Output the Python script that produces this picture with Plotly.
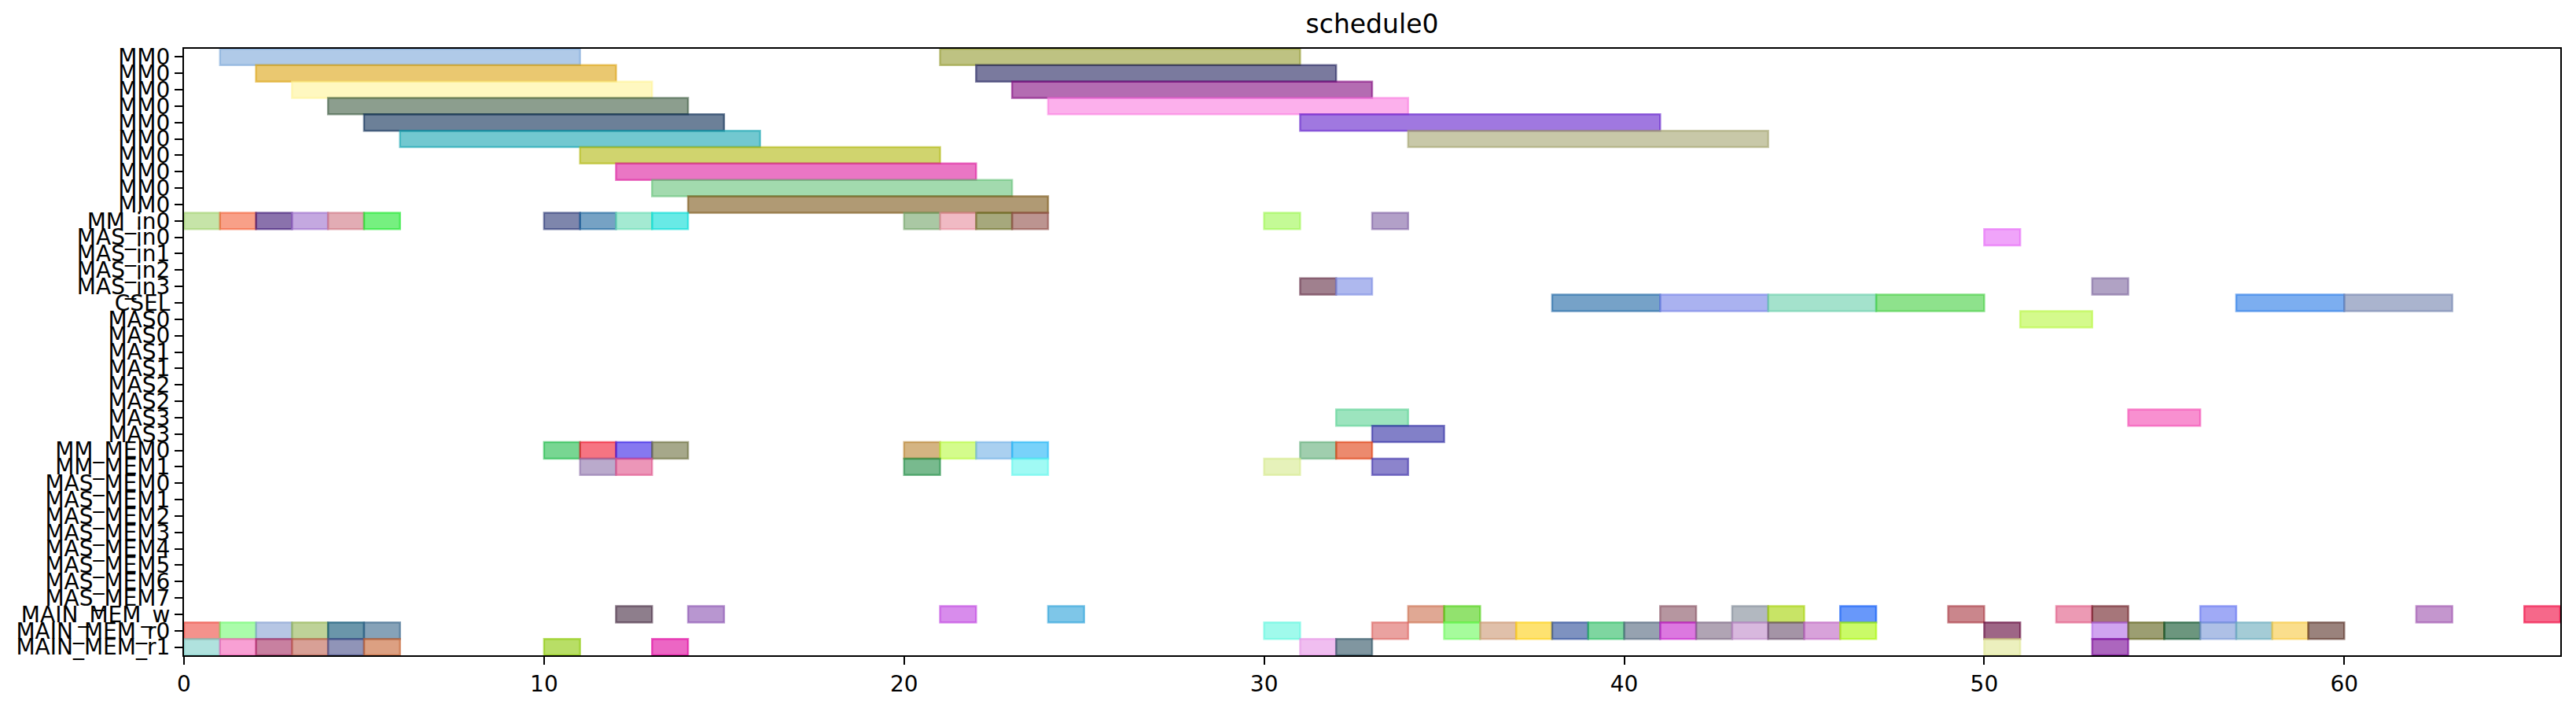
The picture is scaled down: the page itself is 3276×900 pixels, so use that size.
import plotly.graph_objects as go

# row labels, top to bottom (duplicates are real, so y is numeric)
row_labels = ["MM0"] * 10 + [
    "MM_in0", "MAS_in0", "MAS_in1", "MAS_in2", "MAS_in3", "CSEL",
    "MAS0", "MAS0", "MAS1", "MAS1", "MAS2", "MAS2", "MAS3", "MAS3",
    "MM_MEM0", "MM_MEM1",
    "MAS_MEM0", "MAS_MEM1", "MAS_MEM2", "MAS_MEM3",
    "MAS_MEM4", "MAS_MEM5", "MAS_MEM6", "MAS_MEM7",
    "MAIN_MEM_w", "MAIN_MEM_r0", "MAIN_MEM_r1",
]

# one entry per task: row index, start, end, colour
task_row = [
    0, 0, 1, 1, 2, 2, 3, 3, 4, 4, 5, 5, 6, 7, 8, 9,
    10, 10, 10, 10, 10, 10, 10, 10, 10, 10, 10, 10, 10, 10, 10, 10,
    11,
    14, 14, 14,
    15, 15, 15, 15, 15, 15,
    16,
    22, 22, 23,
    24, 24, 24, 24, 24, 24, 24, 24, 24, 24,
    25, 25, 25, 25, 25, 25,
    34, 34, 34, 34, 34, 34, 34, 34, 34, 34, 34, 34, 34, 34, 34, 34,
    35, 35, 35, 35, 35, 35, 35, 35, 35, 35, 35, 35, 35, 35, 35, 35,
    35, 35, 35, 35, 35, 35, 35, 35, 35, 35, 35, 35,
    36, 36, 36, 36, 36, 36, 36, 36, 36, 36, 36, 36,
]
task_start = [
    1, 21, 2, 22, 3, 23, 4, 24, 5, 31, 6, 34, 11, 12, 13, 14,
    0, 1, 2, 3, 4, 5, 10, 11, 12, 13, 20, 21, 22, 23, 30, 33,
    50,
    31, 32, 53,
    38, 41, 44, 47, 57, 60,
    51,
    32, 54, 33,
    10, 11, 12, 13, 20, 21, 22, 23, 31, 32,
    11, 12, 20, 23, 30, 33,
    12, 14, 21, 24, 34, 35, 41, 43, 44, 46, 49, 52, 53, 56, 62, 65,
    0, 1, 2, 3, 4, 5, 30, 33, 35, 36, 37, 38, 39, 40, 41, 42,
    43, 44, 45, 46, 50, 53, 54, 55, 56, 57, 58, 59,
    0, 1, 2, 3, 4, 5, 10, 13, 31, 32, 50, 53,
]
task_end = [
    11, 31, 12, 32, 13, 33, 14, 34, 15, 41, 16, 44, 21, 22, 23, 24,
    1, 2, 3, 4, 5, 6, 11, 12, 13, 14, 21, 22, 23, 24, 31, 34,
    51,
    32, 33, 54,
    41, 44, 47, 50, 60, 63,
    53,
    34, 56, 35,
    11, 12, 13, 14, 21, 22, 23, 24, 32, 33,
    12, 13, 21, 24, 31, 34,
    13, 15, 22, 25, 35, 36, 42, 44, 45, 47, 50, 53, 54, 57, 63, 66,
    1, 2, 3, 4, 5, 6, 31, 34, 36, 37, 38, 39, 40, 41, 42, 43,
    44, 45, 46, 47, 51, 54, 55, 56, 57, 58, 59, 60,
    1, 2, 3, 4, 5, 6, 11, 14, 32, 33, 51, 54,
]
task_color = [
    "#7ba7d9", "#93992f", "#dca311", "#21215d", "#fff396", "#820a7f",
    "#3f5d43", "#fa7bdf", "#0a2b53", "#611ecb", "#14a3b1", "#a3a36e",
    "#b1b70d", "#dc1b9d", "#64c178", "#7b5717",
    "#a0d26e", "#f36139", "#3c1475", "#9d6ecb", "#cf7582", "#1be62b",
    "#283575", "#1b649d", "#67dcb4", "#03dcd5", "#71a367", "#e68c9d",
    "#6b6e25", "#8f4d46", "#9df750", "#7f61a3",
    "#e667f7",
    "#612b43", "#7889e3", "#7b649d",
    "#1b64a3", "#717fe6", "#67cfaa", "#43cf3f", "#2578e6", "#7182ad",
    "#b7f73f",
    "#5ad293", "#f346b1", "#2f2ba3",
    "#1ebb49", "#f0172f", "#351ee6", "#6b6e3c", "#b7822f", "#b7fa3f",
    "#71b1e6", "#1eb4f7", "#61ad78", "#df3c0d",
    "#8c71aa", "#df5089", "#1e8c43", "#61f7ed", "#d5e98c", "#3f32aa",
    "#43283f", "#8950b1", "#be3fdf", "#28a0d9", "#cb6e4d", "#49cf0d",
    "#855061", "#7f8996", "#a3d200", "#0353f7", "#a7353f", "#df5782",
    "#6b1b21", "#6171f0", "#9d50ad", "#f0033c",
    "#ed493f", "#71fa71", "#85a0d2", "#93b453", "#075071", "#356489",
    "#61f7df", "#dc6461", "#6bfa5a", "#cb9671", "#fdcf11", "#284996",
    "#28bb61", "#50647b", "#c51ecb", "#7b6782", "#be89c8", "#674d6b",
    "#be64c1", "#a7f703", "#5d0035", "#b167e6", "#5a5d14", "#0a5028",
    "#7896d5", "#67aabb", "#f7c83f", "#572f25",
    "#7bcfc8", "#f361b7", "#a32b61", "#be6150", "#464d89", "#c5612f",
    "#89c800", "#df009d", "#e693e6", "#2b5061", "#dfe693", "#750093",
]

x_ticks = [0, 10, 20, 30, 40, 50, 60]
x_max = 66


def rgba(hex_color, alpha):
    h = hex_color.lstrip("#")
    r, g, b = int(h[0:2], 16), int(h[2:4], 16), int(h[4:6], 16)
    return f"rgba({r},{g},{b},{alpha})"


fill = [rgba(c, 0.6) for c in task_color]
edge = [rgba(c, 0.6) for c in task_color]
dur = [e - s for s, e in zip(task_start, task_end)]

fig = go.Figure()
fig.add_trace(go.Bar(
    y=task_row,
    x=dur,
    base=task_start,
    orientation="h",
    width=1.0,
    marker=dict(color=fill, line=dict(color=edge, width=2.5)),
    showlegend=False,
))

# the page body adds an 8px margin, so the figure is 8px smaller
W, H = 3268, 892
font = "DejaVu Sans, Liberation Sans, sans-serif"
axis_common = dict(
    showline=True, linecolor="black", linewidth=2.2, mirror=True,
    ticks="outside", ticklen=10, tickwidth=2.2, tickcolor="black",
    showgrid=False, zeroline=False,
    tickfont=dict(family=font, size=28, color="black"),
)

fig.update_layout(
    width=W, height=H,
    margin=dict(l=226, r=20, t=54, b=67),
    paper_bgcolor="white", plot_bgcolor="white",
    barmode="overlay",
    title=dict(text="schedule0", x=(226 + W - 20) / 2 / W, xanchor="center",
               xref="container", yref="container",
               y=1 - 22 / H, yanchor="middle",
               font=dict(family=font, size=33, color="black")),
    xaxis=dict(range=[0, x_max], tickvals=x_ticks, **axis_common),
    yaxis=dict(range=[len(row_labels) - 0.5, -0.5],
               tickvals=list(range(len(row_labels))), ticktext=row_labels,
               **axis_common),
)

fig.write_html("out.html")
